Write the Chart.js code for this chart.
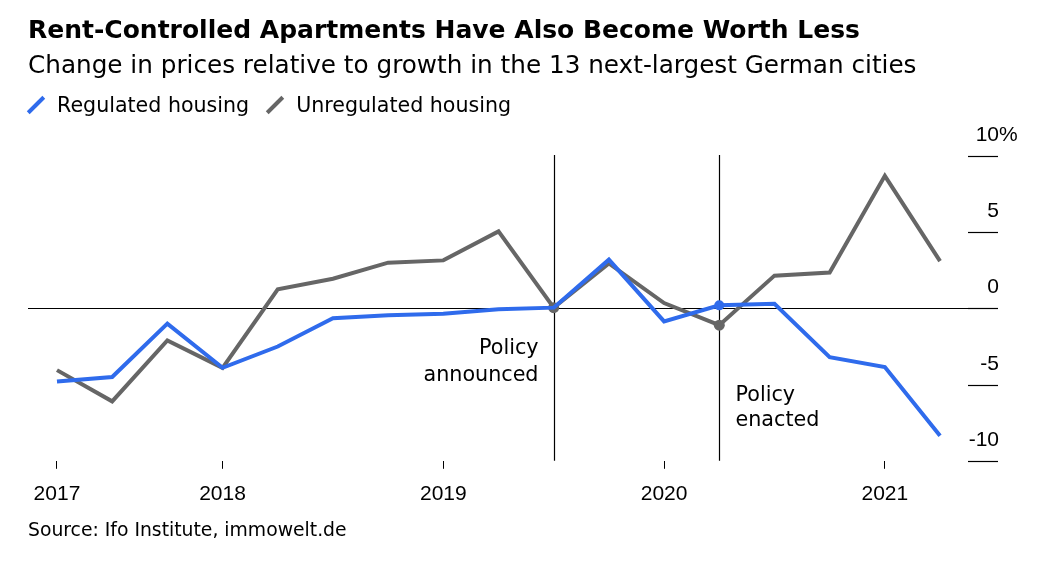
<!DOCTYPE html>
<html>
<head>
<meta charset="utf-8">
<script src="https://cdn.jsdelivr.net/npm/chart.js@4.4.1/dist/chart.umd.min.js"></script>
<style>
  html, body { margin: 0; padding: 0; background: #fff; }
  body { width: 1050px; height: 580px; position: relative; overflow: hidden; font-family: "DejaVu Sans", sans-serif; color: #000; }
  #chart { position: absolute; left: 0; top: 0; }
  .txt { position: absolute; left: 28px; white-space: nowrap; }
  #title { top: 15px; font-size: 25px; font-weight: bold; }
  #subtitle { top: 50px; font-size: 24.7px; }
  #legend { top: 93px; font-size: 20.6px; display: flex; align-items: center; }
  .sw { display: inline-block; width: 22px; height: 4px; transform: rotate(-45deg); margin: 0 10px 0 -3px; }
  #source { top: 519px; font-size: 18.8px; }
</style>
</head>
<body>
<canvas id="chart" width="1050" height="580"></canvas>
<div class="txt" id="title">Rent-Controlled Apartments Have Also Become Worth Less</div>
<div class="txt" id="subtitle">Change in prices relative to growth in the 13 next-largest German cities</div>
<div class="txt" id="legend">
  <span class="sw" style="background:#2f6bec"></span><span style="margin-right:18px">Regulated housing</span>
  <span class="sw" style="background:#666"></span><span>Unregulated housing</span>
</div>
<div class="txt" id="source">Source: Ifo Institute, immowelt.de</div>
<script>
// quarterly points, 2017 to 2021
const quarters = ["2017 Q1", "2017 Q2", "2017 Q3", "2017 Q4", "2018 Q1", "2018 Q2", "2018 Q3", "2018 Q4",
    "2019 Q1", "2019 Q2", "2019 Q3", "2019 Q4", "2020 Q1", "2020 Q2", "2020 Q3", "2020 Q4", "2021 Q1"];
const regulated = [-4.8, -4.5, -1.0, -3.9, -2.5, -0.65, -0.45, -0.35, -0.05, 0.05, 3.2, -0.85, 0.2, 0.3, -3.2, -3.85, -8.35];
const unregulated = [-4.05, -6.1, -2.1, -3.9, 1.25, 1.95, 3.0, 3.15, 5.05, 0.05, 2.95, 0.35, -1.1, 2.15, 2.35, 8.7, 3.1];
const yearTicks = [0, 3, 7, 11, 15];
const yearLabels = ["2017", "2018", "2019", "2020", "2021"];
const yTicks = [10, 5, 0, -5, -10];
const policyEvents = [
    { idx: 9, lines: ["Policy", "announced"], side: "left" },
    { idx: 12, lines: ["Policy", "enacted"], side: "right" }
];

const blue = "#2f6bec";
const gray = "#666666";
const numFont = "Liberation Sans";
const textFont = "DejaVu Sans";

function dots(n, idxs) {
    return quarters.map((_, i) => idxs.includes(i) ? n : 0);
}

const overlay = {
    id: "overlay",
    beforeDatasetsDraw(chart) {
        const { ctx, chartArea, scales } = chart;
        const x = scales.x, y = scales.y;
        ctx.save();
        ctx.strokeStyle = "#000";
        ctx.lineWidth = 1.2;
        // zero line
        const y0 = Math.round(y.getPixelForValue(0)) + 0.5;
        ctx.beginPath();
        ctx.moveTo(chartArea.left, y0);
        ctx.lineTo(chartArea.right, y0);
        ctx.stroke();
        // policy lines and notes
        ctx.font = "20.7px " + textFont;
        ctx.fillStyle = "#000";
        ctx.textBaseline = "middle";
        policyEvents.forEach(ev => {
            const px = Math.round(x.getPixelForValue(ev.idx)) + 0.5;
            ctx.beginPath();
            ctx.moveTo(px, chartArea.top - 1);
            ctx.lineTo(px, chartArea.bottom);
            ctx.stroke();
            if (ev.side === "left") {
                ctx.textAlign = "right";
                ctx.fillText(ev.lines[0], px - 16, 349);
                ctx.fillText(ev.lines[1], px - 16, 376);
            } else {
                ctx.textAlign = "left";
                ctx.fillText(ev.lines[0], px + 16, 396);
                ctx.fillText(ev.lines[1], px + 16, 421);
            }
        });
        // right value ticks, number right-aligned to tick end, % hanging past it
        ctx.font = "21px " + numFont;
        yTicks.forEach(v => {
            const py = Math.round(y.getPixelForValue(v)) + 0.5;
            ctx.beginPath();
            ctx.moveTo(chartArea.right - 30, py);
            ctx.lineTo(chartArea.right, py);
            ctx.stroke();
            ctx.textAlign = "right";
            ctx.fillText(String(v), chartArea.right + 1, py - 21);
            if (v === 10) {
                ctx.textAlign = "left";
                ctx.fillText("%", chartArea.right + 1, py - 21);
            }
        });
        ctx.restore();
    }
};

new Chart(document.getElementById("chart"), {
    type: "line",
    data: {
        labels: quarters,
        datasets: [
            {
                label: "Regulated housing",
                data: regulated.map((v, i) => ({ x: i, y: v })),
                borderColor: blue,
                backgroundColor: blue,
                borderWidth: 4,
                pointRadius: dots(5, [12]),
                pointBorderWidth: 0,
                tension: 0
            },
            {
                label: "Unregulated housing",
                data: unregulated.map((v, i) => ({ x: i, y: v })),
                borderColor: gray,
                backgroundColor: gray,
                borderWidth: 4,
                pointRadius: dots(5.5, [9, 12]),
                pointBorderWidth: 0,
                tension: 0
            }
        ]
    },
    options: {
        responsive: false,
        animation: false,
        layout: { padding: { top: 156, left: 28, right: 52, bottom: 60 } },
        scales: {
            x: {
                type: "linear",
                min: -0.525,
                max: 17.05,
                border: { display: false },
                grid: { drawOnChartArea: false, drawTicks: true, tickLength: 8, tickColor: "#000", lineWidth: 1 },
                afterBuildTicks: (axis) => { axis.ticks = yearTicks.map(v => ({ value: v })); },
                ticks: {
                    color: "#000",
                    padding: 13,
                    maxRotation: 0,
                    autoSkip: false,
                    font: { family: numFont, size: 21 },
                    callback: (value) => yearLabels[yearTicks.indexOf(value)]
                }
            },
            y: { display: false, min: -10, max: 10 }
        },
        plugins: { legend: { display: false }, tooltip: { enabled: false } }
    },
    plugins: [overlay]
});
</script>
</body>
</html>
